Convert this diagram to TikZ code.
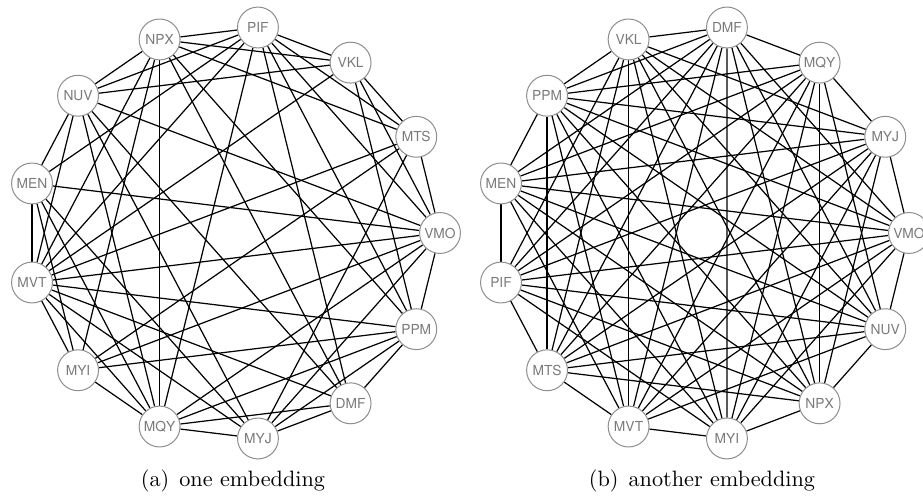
\documentclass[tikz,border=0pt]{standalone}
\usepackage{fontspec}
\newfontfamily\labfont{TeX Gyre Heros}
\usetikzlibrary{backgrounds}
\definecolor{nodegray}{HTML}{8E8E8E}
\definecolor{textgray}{HTML}{7A7A7A}
\tikzset{
  vtx/.style={circle, draw=nodegray, line width=0.45pt, fill=white, minimum size=18.4pt, inner sep=0pt,
    text=textgray, font=\labfont\fontsize{6.2}{7}\selectfont},
  edge/.style={line width=0.55pt, black},
  captxt/.style={font=\fontsize{10}{12}\selectfont, inner sep=0pt}
}
\begin{document}
\begin{tikzpicture}[x=0.45pt,y=-0.45pt]
\useasboundingbox (0,0) rectangle (923,496);
\clip (0,0) rectangle (923,496);
% left graph
\foreach \n [count=\i from 0] in {VMO,MTS,VKL,PIF,NPX,NUV,MEN,MVT,MYI,MQY,MYJ,DMF,PPM}
  \node[vtx] (a\n) at ({233+207*cos(\i*360/13)},{233-207*sin(\i*360/13)}) {\n};
% right graph
\foreach \n [count=\i from 0] in {VMO,MYJ,MQY,DMF,VKL,PPM,MEN,PIF,MTS,MVT,MYI,NPX,NUV}
  \node[vtx] (b\n) at ({702+207*cos(\i*360/13)},{233-207*sin(\i*360/13)}) {\n};
\begin{pgfonlayer}{background}
\foreach \u/\v in {NPX/PIF,NPX/VKL,NPX/MTS,NPX/NUV,NPX/MQY,NPX/MYI,NPX/MVT,NPX/PPM,NPX/DMF,
  PIF/VKL,PIF/MTS,PIF/VMO,PIF/PPM,PIF/DMF,PIF/MQY,PIF/MVT,PIF/MEN,PIF/NUV,
  VKL/MTS,VKL/VMO,VKL/PPM,VKL/MVT,VKL/NUV,
  MTS/VMO,MTS/MVT,MTS/MYI,MTS/MYJ,
  NUV/VMO,NUV/MEN,NUV/MVT,NUV/MQY,NUV/MYJ,NUV/DMF,
  MEN/MVT,MEN/VMO,MEN/MYI,MEN/MQY,MEN/MYJ,
  MVT/VMO,MVT/PPM,MVT/DMF,MVT/MYJ,MVT/MQY,MVT/MYI,
  MYI/MQY,MYI/VMO,MYI/PPM,
  MQY/MYJ,MQY/DMF,MQY/PPM,MQY/VMO,MYJ/DMF,MYJ/PPM,MYJ/VMO,DMF/PPM,PPM/VMO}
  \draw[edge] (a\u) -- (a\v);
% right graph: circular order, chords of steps 1,3,4,5,6
\foreach \u/\v in {VMO/MYJ,MYJ/MQY,MQY/DMF,DMF/VKL,VKL/PPM,PPM/MEN,MEN/PIF,PIF/MTS,MTS/MVT,MVT/MYI,MYI/NPX,NPX/NUV,NUV/VMO,
  VMO/DMF,MYJ/VKL,MQY/PPM,DMF/MEN,VKL/PIF,PPM/MTS,MEN/MVT,PIF/MYI,MTS/NPX,MVT/NUV,MYI/VMO,NPX/MYJ,NUV/MQY,
  VMO/VKL,MYJ/PPM,MQY/MEN,DMF/PIF,VKL/MTS,PPM/MVT,MEN/MYI,PIF/NPX,MTS/NUV,MVT/VMO,MYI/MYJ,NPX/MQY,NUV/DMF,
  VMO/PPM,MYJ/MEN,MQY/PIF,DMF/MTS,VKL/MVT,PPM/MYI,MEN/NPX,PIF/NUV,MTS/VMO,MVT/MYJ,MYI/MQY,NPX/DMF,NUV/VKL,
  VMO/MEN,MYJ/PIF,MQY/MTS,DMF/MVT,VKL/MYI,PPM/NPX,MEN/NUV,PIF/VMO,MTS/MYJ,MVT/MQY,MYI/DMF,NPX/VKL,NUV/PPM,
  PPM/DMF}
  \draw[edge] (b\u) -- (b\v);
\end{pgfonlayer}
\node[captxt] (capa) at (233,481) {(a)\hspace{4.5pt}one embedding};
\node[captxt] (capb) at (702,481) {(b)\hspace{4.5pt}another embedding};
\end{tikzpicture}
\end{document}
